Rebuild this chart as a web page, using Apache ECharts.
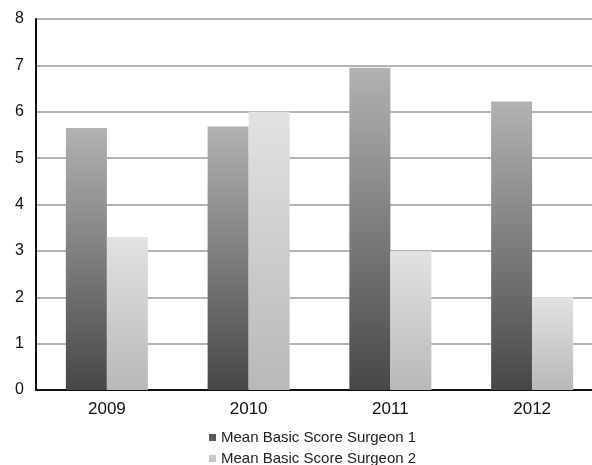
<!DOCTYPE html>
<html>
<head>
<meta charset="utf-8">
<script src="https://cdn.jsdelivr.net/npm/echarts@6/dist/echarts.min.js"></script>
<style>
  html, body { margin: 0; padding: 0; background: #fff; overflow: hidden; }
  #chart { width: 592px; height: 465px; }
</style>
</head>
<body>
<div id="chart"></div>
<script>
// Mean basic score per year for two surgeons
const years = ['2009', '2010', '2011', '2012'];
const surgeon1 = [5.65, 5.68, 6.95, 6.22];
const surgeon2 = [3.3, 6.0, 3.0, 2.0];
const seriesNames = ['Mean Basic Score Surgeon 1', 'Mean Basic Score Surgeon 2'];
const yTicks = [0, 1, 2, 3, 4, 5, 6, 7, 8];

const font = 'Liberation Sans, Arial, Helvetica, sans-serif';

function vGrad(top, bottom) {
  return new echarts.graphic.LinearGradient(0, 0, 0, 1, [
    { offset: 0, color: top },
    { offset: 1, color: bottom }
  ]);
}

const legendText = { fontFamily: font, fontSize: 15, color: '#222' };

const chart = echarts.init(document.getElementById('chart'), null, { renderer: 'canvas' });
chart.setOption({
  animation: false,
  backgroundColor: '#ffffff',
  // plot area runs slightly past the right edge of the canvas
  grid: {
    left: 36, width: 567, top: 19, bottom: 75,
    containLabel: false,
    outerBoundsMode: 'none'
  },
  legend: [
    {
      left: 204,
      top: 425,
      itemWidth: 7,
      itemHeight: 7,
      itemGap: 6,
      icon: 'rect',
      textStyle: legendText,
      data: [{ name: seriesNames[0], itemStyle: { color: '#5a5a5a' } }]
    },
    {
      left: 204,
      top: 446,
      itemWidth: 7,
      itemHeight: 7,
      itemGap: 6,
      icon: 'rect',
      textStyle: legendText,
      data: [{ name: seriesNames[1], itemStyle: { color: '#c8c8c8' } }]
    }
  ],
  xAxis: {
    type: 'category',
    data: years,
    axisLine: { lineStyle: { color: '#111', width: 2 } },
    axisTick: { show: false },
    axisLabel: { fontFamily: font, fontSize: 17, color: '#111', margin: 11 },
    splitLine: { show: false }
  },
  yAxis: {
    type: 'value',
    min: yTicks[0],
    max: yTicks[yTicks.length - 1],
    interval: 1,
    axisLine: { show: true, lineStyle: { color: '#111', width: 2 } },
    axisTick: { show: false },
    axisLabel: { fontFamily: font, fontSize: 16, color: '#111', margin: 12 },
    splitLine: { lineStyle: { color: '#b4b4b4', width: 2 } }
  },
  series: [
    {
      name: seriesNames[0],
      type: 'bar',
      data: surgeon1,
      barWidth: 41,
      barGap: '0%',
      itemStyle: { color: vGrad('#b2b2b2', '#474747') }
    },
    {
      name: seriesNames[1],
      type: 'bar',
      data: surgeon2,
      barWidth: 41,
      itemStyle: { color: vGrad('#e2e2e2', '#b8b8b8') }
    }
  ]
});
</script>
</body>
</html>
